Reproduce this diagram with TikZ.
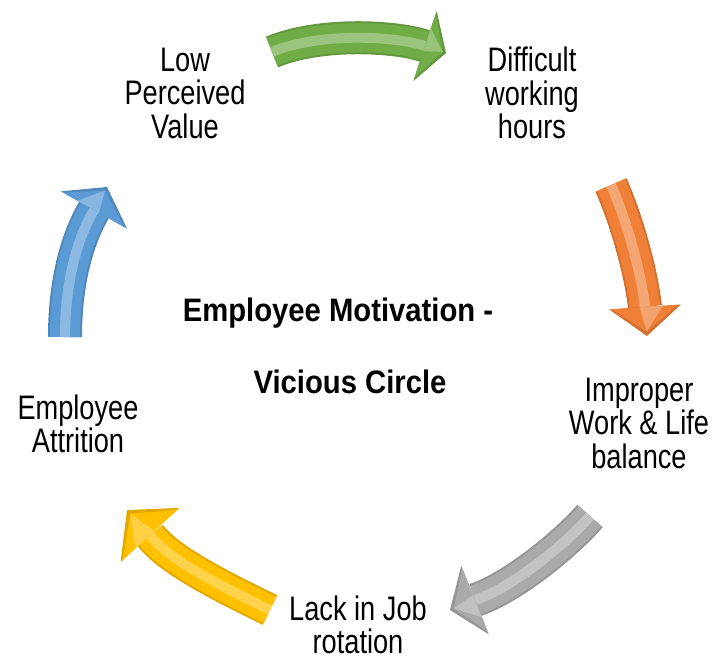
\documentclass[tikz,border=0pt]{standalone}
\usepackage{fontspec}
\setmainfont{Liberation Sans}
\newfontfamily\lblfont[FakeStretch=0.8]{Liberation Sans}
\newfontfamily\ttlfont[FakeStretch=0.9]{Liberation Sans Bold}
\usetikzlibrary{calc}
\definecolor{cgreen}{RGB}{112,173,71}
\definecolor{corange}{RGB}{240,128,56}
\definecolor{cgray}{RGB}{170,170,170}
\definecolor{cyellow}{RGB}{255,192,0}
\definecolor{cblue}{RGB}{91,155,213}
\tikzset{
  lbl/.style={align=center, font=\lblfont\fontsize{34}{33.5}\selectfont, text=black, inner sep=0pt},
  ttl/.style={font=\ttlfont\fontsize{32.5}{34}\selectfont, text=black, inner sep=0pt},
}
% #1 colour, #2 tail, #3 c1, #4 c2, #5 base, #6 tip, #7 body width, #8 head half width
\newcommand{\cyclearrow}[8]{%
  \draw[line width=#7pt, #1!88!black] (#2) .. controls (#3) and (#4) .. (#5);
  \draw[line width=#7pt-4pt, #1] (#2) .. controls (#3) and (#4) .. (#5);
  \draw[line width=#7pt*0.3, #1!50!white, opacity=0.6] (#2) .. controls (#3) and (#4) .. (#5);
  \fill[#1!88!black] ($(#5)!#8pt!90:(#6)$) -- (#6) -- ($(#5)!#8pt!-90:(#6)$) -- cycle;
  \fill[#1] ($(#5)!#8pt-3pt!90:(#6)$) -- ($(#5)!0.85!(#6)$) -- ($(#5)!#8pt-3pt!-90:(#6)$) -- cycle;
  \fill[#1!55!white, opacity=0.6] ($(#5)!#8pt*0.5!90:(#6)$) -- ($(#5)!0.85!(#6)$) -- ($(#5)!#8pt*0.15!-90:(#6)$) -- cycle;
}
\begin{document}
\begin{tikzpicture}[x=1pt,y=-1pt]
\useasboundingbox (0,0) rectangle (717,661);
% labels
\node[lbl] (lpv) at (185,93) {Low\\Perceived\\Value};
\node[lbl] (dwh) at (532,93) {Difficult\\working\\hours};
\node[lbl] (iwl) at (639,423) {Improper\\Work \& Life\\balance};
\node[lbl] (ljr) at (358,625) {Lack in Job\\rotation};
\node[lbl] (eat) at (78,424) {Employee\\Attrition};
\node[ttl] (t1) at (338,313) {Employee Motivation -};
\node[ttl] (t2) at (350,382) {Vicious Circle};
% arrow coordinates
\coordinate (gT) at (272,52); \coordinate (gC1) at (320,32); \coordinate (gC2) at (395,36); \coordinate (gB) at (425,46); \coordinate (gP) at (446,53);
\coordinate (oT) at (611,185); \coordinate (oC1) at (627,221); \coordinate (oC2) at (641,272); \coordinate (oB) at (645,307); \coordinate (oP) at (647,336);
\coordinate (yT) at (590,516); \coordinate (yC1) at (565,545); \coordinate (yC2) at (510,589); \coordinate (yB) at (475,600); \coordinate (yP) at (450,610);
\coordinate (aT) at (270,610); \coordinate (aC1) at (225,588); \coordinate (aC2) at (168,560); \coordinate (aB) at (150,535); \coordinate (aP) at (127,510);
\coordinate (bT) at (65,337); \coordinate (bC1) at (65,290); \coordinate (bC2) at (74,244); \coordinate (bB) at (94,210); \coordinate (bP) at (107,187);
\cyclearrow{cgreen}{gT}{gC1}{gC2}{gB}{gP}{33}{37}
\cyclearrow{corange}{oT}{oC1}{oC2}{oB}{oP}{34}{36}
\cyclearrow{cgray}{yT}{yC1}{yC2}{yB}{yP}{34}{37}
\cyclearrow{cyellow}{aT}{aC1}{aC2}{aB}{aP}{33}{40}
\cyclearrow{cblue}{bT}{bC1}{bC2}{bB}{bP}{34}{38}
\end{tikzpicture}
\end{document}
